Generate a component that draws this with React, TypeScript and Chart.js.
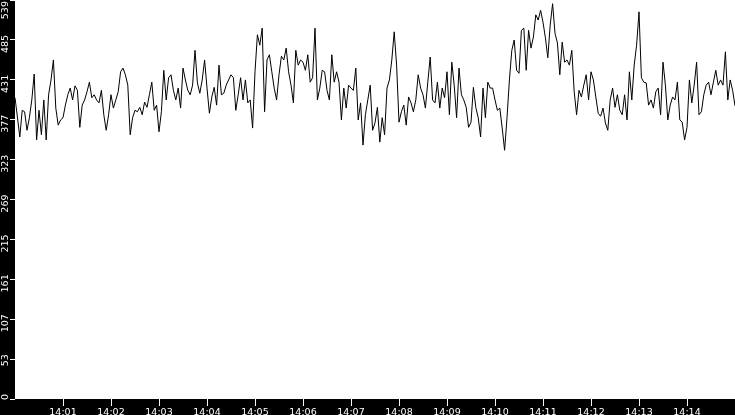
import { useEffect, useRef } from "react";
import { Chart, registerables } from "chart.js";

Chart.register(...registerables);

// minute tick labels, 14:00 .. 14:15
const MINUTE_LABELS = [
  "14:00", "14:01", "14:02", "14:03", "14:04", "14:05", "14:06", "14:07",
  "14:08", "14:09", "14:10", "14:11", "14:12", "14:13", "14:14", "14:15",
];

const SECONDS_PER_POINT = 3;
const X_MAX = 900;
const Y_MAX = 539;
const Y_TICK_COUNT = 11;

// samples in chunks of ~112 s
const PART_1 = [407, 381, 354, 390, 388, 363, 380, 404, 439, 350, 390, 357, 404, 350, 411, 431, 458, 393, 370, 377, 380, 397, 411, 420, 404, 423, 417, 367, 397, 404, 415, 428, 407, 411, 404, 400, 417, 384];
const PART_2 = [363, 384, 411, 393, 404, 415, 442, 447, 438, 424, 357, 380, 390, 388, 394, 384, 401, 394, 411, 428, 390, 397, 361, 388, 444, 404, 434, 438, 417, 404, 420, 393, 447, 431, 417, 411, 424];
const PART_3 = [471, 427, 413, 431, 458, 420, 386, 408, 421, 397, 451, 411, 413, 424, 431, 438, 434, 390, 411, 434, 404, 431, 400, 404, 366, 442, 492, 478, 501, 388, 458, 465, 442, 420, 404, 438, 463, 458];
const PART_4 = [474, 442, 424, 400, 471, 451, 458, 455, 444, 465, 428, 434, 501, 404, 420, 444, 442, 417, 404, 465, 428, 442, 428, 377, 420, 393, 424, 420, 417, 447, 377, 400, 343, 384, 404, 424, 363];
const PART_5 = [373, 394, 347, 380, 357, 420, 431, 458, 496, 451, 374, 388, 397, 370, 408, 400, 388, 404, 438, 420, 411, 393, 428, 462, 404, 400, 428, 393, 420, 407, 442, 384, 455, 424, 380, 447, 411, 404];
const PART_6 = [394, 367, 374, 421, 394, 380, 354, 420, 380, 428, 420, 420, 404, 390, 393, 366, 336, 380, 431, 471, 485, 444, 440, 498, 501, 444, 498, 474, 489, 519, 512, 525, 509, 488, 461, 505, 534];
const PART_7 = [494, 481, 438, 482, 455, 458, 451, 471, 415, 384, 417, 408, 424, 438, 404, 442, 431, 408, 386, 382, 393, 373, 363, 404, 420, 394, 411, 390, 384, 411, 377, 442, 404, 451, 478, 523, 434, 428];
const PART_8 = [427, 397, 404, 393, 415, 420, 384, 455, 424, 377, 397, 408, 404, 428, 377, 374, 350, 367, 431, 400, 424, 455, 384, 388, 411, 424, 428, 411, 428, 444, 424, 431, 424, 469, 404, 431, 417, 396];

const VALUES = [...PART_1, ...PART_2, ...PART_3, ...PART_4, ...PART_5, ...PART_6, ...PART_7, ...PART_8];

const FONT = { family: "'DejaVu Sans', sans-serif", size: 9.5 };

// black frame behind the axes, white plot area
const axisBackground = {
  id: "axisBackground",
  beforeDraw(chart: Chart) {
    const { ctx, chartArea, width, height } = chart;
    ctx.save();
    ctx.fillStyle = "#000";
    ctx.fillRect(0, 0, width, height);
    ctx.fillStyle = "#fff";
    ctx.fillRect(chartArea.left, chartArea.top, chartArea.right - chartArea.left, chartArea.bottom - chartArea.top);
    ctx.restore();
  },
};

export default function App() {
  const canvasRef = useRef<HTMLCanvasElement>(null);

  useEffect(() => {
    document.body.style.margin = "0";
    if (!canvasRef.current) return;

    const chart = new Chart(canvasRef.current, {
      type: "line",
      data: {
        datasets: [{
          data: VALUES.map((v, i) => ({ x: i * SECONDS_PER_POINT, y: v })),
          borderColor: "#000",
          borderWidth: 1,
          pointRadius: 0,
          tension: 0,
          fill: false,
        }],
      },
      options: {
        responsive: false,
        animation: false,
        events: [],
        layout: { padding: 0 },
        plugins: { legend: { display: false }, tooltip: { enabled: false } },
        scales: {
          x: {
            type: "linear",
            min: 0,
            max: X_MAX,
            afterBuildTicks: (s: any) => {
              s.ticks = s.ticks.filter((t: any) => t.value > 0 && t.value < X_MAX);
            },
            afterFit: (s: any) => {
              s.height = 16;
              s.paddingLeft = 0;
              s.paddingRight = 0;
            },
            ticks: {
              stepSize: 60,
              autoSkip: false,
              maxRotation: 0,
              padding: 1,
              color: "#fff",
              font: FONT,
              callback: (v: any) => MINUTE_LABELS[Math.round(Number(v) / 60)],
            },
            grid: { drawOnChartArea: false, tickLength: 7, tickColor: "#fff", tickWidth: 1 },
            border: { display: false },
          },
          y: {
            min: 0,
            max: Y_MAX,
            afterFit: (s: any) => {
              s.width = 15;
              s.paddingTop = 0;
              s.paddingBottom = 0;
            },
            ticks: {
              count: Y_TICK_COUNT,
              autoSkip: false,
              minRotation: 90,
              maxRotation: 90,
              labelOffset: -5,
              padding: 4,
              color: "#fff",
              font: FONT,
              callback: (v: any) => {
                const n = Math.floor(Number(v) + 1e-6);
                // top label is pushed down so it stays inside the canvas
                return n === Y_MAX ? n + "  " : String(n);
              },
            },
            grid: { drawOnChartArea: false, tickLength: 5, tickColor: "#fff", tickWidth: 1 },
            border: { display: false },
          },
        },
      },
      plugins: [axisBackground],
    });

    return () => { chart.destroy(); };
  }, []);

  return <canvas ref={canvasRef} width={735} height={415} style={{ display: "block" }} />;
}
